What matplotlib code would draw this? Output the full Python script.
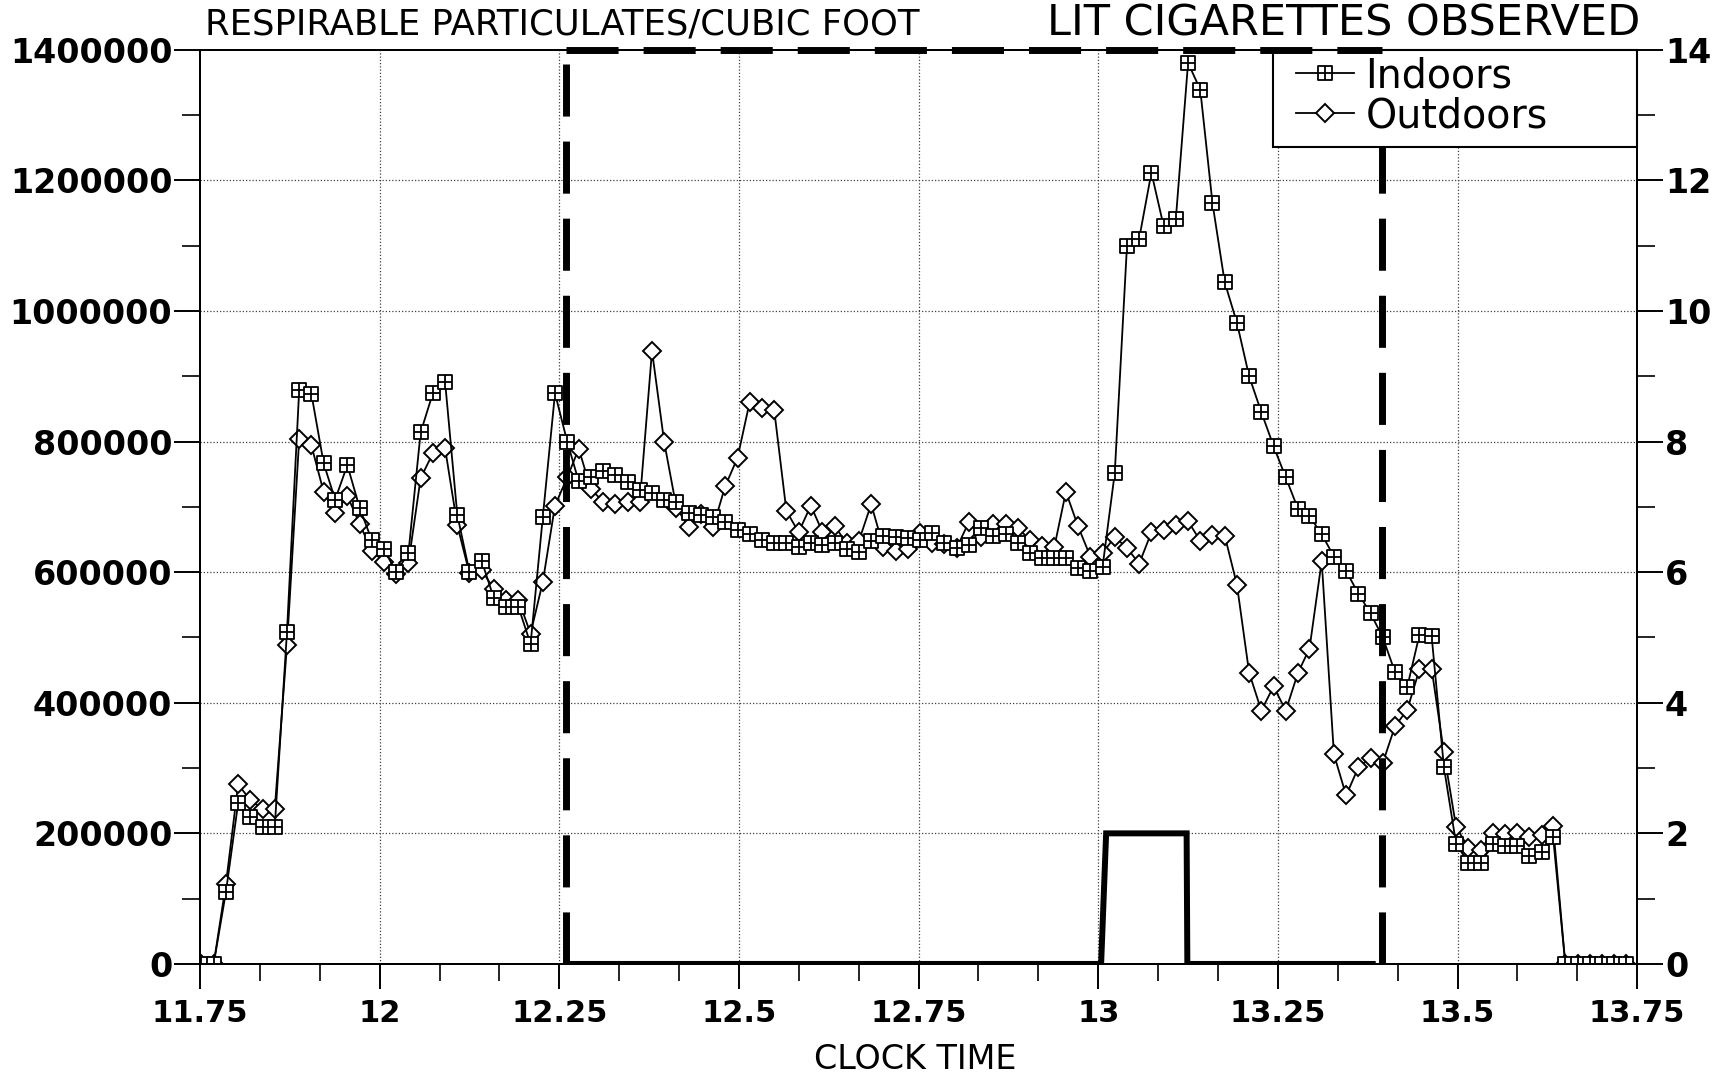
import numpy as np
import matplotlib
matplotlib.use("Agg")
import matplotlib.pyplot as plt
from matplotlib.patches import Rectangle
from matplotlib.path import Path
from matplotlib.ticker import FixedLocator, FixedFormatter, StrMethodFormatter

# ── Data ──────────────────────────────────────────────────────────────────────

times = [
    11.752, 11.769, 11.786, 11.803, 11.820, 11.837, 11.854, 11.871, 11.888, 11.905,
    11.922, 11.938, 11.955, 11.972, 11.989, 12.006, 12.023, 12.040, 12.057, 12.074,
    12.091, 12.108, 12.125, 12.142, 12.159, 12.176, 12.193, 12.210, 12.227, 12.244,
    12.261, 12.277, 12.294, 12.311, 12.328, 12.345, 12.362, 12.379, 12.396, 12.413,
    12.430, 12.447, 12.464, 12.481, 12.498, 12.515, 12.532, 12.549, 12.566, 12.583,
    12.600, 12.616, 12.633, 12.650, 12.667, 12.684, 12.701, 12.718, 12.735, 12.752,
    12.769, 12.786, 12.803, 12.820, 12.837, 12.854, 12.871, 12.888, 12.905, 12.922,
    12.939, 12.955, 12.972, 12.989, 13.006, 13.023, 13.040, 13.057, 13.074, 13.091,
    13.108, 13.125, 13.142, 13.159, 13.176, 13.193, 13.210, 13.227, 13.244, 13.261,
    13.278, 13.294, 13.311, 13.328, 13.345, 13.362, 13.379, 13.396, 13.413, 13.430,
    13.447, 13.464, 13.481, 13.498, 13.515, 13.532, 13.549, 13.566, 13.583, 13.600,
    13.617, 13.633, 13.650, 13.667, 13.684, 13.701, 13.718, 13.735,
]

indoors = [
    0, 0, 110000, 246000, 225000, 210000, 210000, 509000, 879000, 873000,
    767000, 711000, 764000, 699000, 649000, 635000, 600000, 629000, 814000, 874000,
    892000, 688000, 600000, 617000, 560000, 547000, 547000, 490000, 684000, 874000,
    800000, 739000, 746000, 755000, 749000, 738000, 726000, 721000, 710000, 708000,
    690000, 688000, 684000, 677000, 665000, 658000, 649000, 644000, 644000, 639000,
    644000, 641000, 644000, 636000, 631000, 647000, 656000, 654000, 653000, 650000,
    660000, 645000, 637000, 641000, 667000, 656000, 658000, 645000, 630000, 622000,
    622000, 621000, 606000, 602000, 608000, 752000, 1100000, 1111000, 1212000, 1130000,
    1141000, 1380000, 1339000, 1165000, 1044000, 982000, 900000, 845000, 793000, 745000,
    697000, 686000, 658000, 624000, 602000, 567000, 537000, 500000, 447000, 424000,
    504000, 502000, 302000, 184000, 155000, 154000, 184000, 181000, 180000, 166000,
    171000, 195000, 0, 0, 0, 0, 0, 0,
]

outdoors = [
    0, 0, 122000, 275000, 251000, 237000, 237000, 488000, 804000, 794000,
    723000, 690000, 717000, 674000, 633000, 616000, 597000, 614000, 744000, 782000,
    790000, 672000, 598000, 603000, 574000, 557000, 558000, 506000, 585000, 702000,
    745000, 789000, 727000, 708000, 705000, 707000, 707000, 939000, 799000, 699000,
    669000, 689000, 669000, 732000, 775000, 861000, 851000, 849000, 694000, 661000,
    702000, 662000, 671000, 644000, 648000, 704000, 639000, 633000, 635000, 660000,
    644000, 643000, 637000, 677000, 654000, 674000, 674000, 668000, 649000, 640000,
    639000, 723000, 670000, 624000, 629000, 654000, 637000, 613000, 661000, 664000,
    673000, 678000, 648000, 657000, 656000, 581000, 446000, 388000, 425000, 388000,
    446000, 483000, 617000, 321000, 258000, 301000, 316000, 308000, 364000, 389000,
    451000, 452000, 324000, 210000, 178000, 175000, 201000, 199000, 200000, 194000,
    197000, 211000, 0, 0, 0, 0, 0, 0,
]

# lit cigarettes observed (right axis)
cig_times = [12.265, 13.004, 13.011, 13.123, 13.124, 13.382]
cig_counts = [0, 0, 2, 2, 0, 0]

# observation period: start / end of the cigarette count
obs_start = 12.26
obs_end = 13.395
obs_top = 14

x_ticks = [11.75, 12.0, 12.25, 12.5, 12.75, 13.0, 13.25, 13.5, 13.75]
x_labels = ["11.75", "12", "12.25", "12.5", "12.75", "13", "13.25", "13.5", "13.75"]

# ── Styling ──────────────────────────────────────────────────────────────────

plt.rcParams.update({
    "font.family": "DejaVu Sans",
    "axes.linewidth": 1.4,
    "xtick.major.width": 1.4,
    "ytick.major.width": 1.4,
    "xtick.minor.width": 1.2,
    "ytick.minor.width": 1.2,
})

# open square with a cross inside
_sq_verts = [(-1, -1), (1, -1), (1, 1), (-1, 1), (-1, -1),
             (0, -1), (0, 1), (-1, 0), (1, 0)]
_sq_codes = [Path.MOVETO, Path.LINETO, Path.LINETO, Path.LINETO, Path.CLOSEPOLY,
             Path.MOVETO, Path.LINETO, Path.MOVETO, Path.LINETO]
SQUARE_PLUS = Path(_sq_verts, _sq_codes)

GRID_KW = dict(color="0.25", linestyle=(0, (1, 1.6)), linewidth=0.9)
OBS_KW = dict(color="black", linewidth=5.0, dashes=(7.5, 3.6), dash_capstyle="butt")

fig = plt.figure(figsize=(17.17, 10.78), dpi=100)
ax = fig.add_axes([0.1165, 0.1058, 0.837, 0.848])
ax2 = ax.twinx()

ax.set_xlim(11.75, 13.75)
ax.set_ylim(0, 1400000)
ax2.set_ylim(0, 14)

# grid
for xv in x_ticks[1:-1]:
    ax.axvline(xv, zorder=0, **GRID_KW)
for yv in range(200000, 1400000, 200000):
    ax.axhline(yv, zorder=0, **GRID_KW)

out_line, = ax.plot(times, outdoors, color="black", linewidth=1.3, marker="D", markersize=9,
                    markerfacecolor="white", markeredgecolor="black", markeredgewidth=1.4,
                    label="Outdoors", zorder=3)
in_line, = ax.plot(times, indoors, color="black", linewidth=1.3, marker=SQUARE_PLUS,
                   markersize=10, markerfacecolor="white", markeredgecolor="black",
                   markeredgewidth=1.3, label="Indoors", zorder=4)

# observation window: vertical sides sit under the legend box, top edge over it
ax2.plot([obs_start, obs_start], [0, obs_top], zorder=5, **OBS_KW)
ax2.plot([obs_end, obs_end], [0, obs_top], zorder=5, **OBS_KW)
ax2.plot([obs_start, obs_end], [obs_top, obs_top], zorder=11, clip_on=False, **OBS_KW)
ax2.plot(cig_times, cig_counts, color="black", linewidth=4.3,
         solid_joinstyle="miter", zorder=5)

# ticks
ax.xaxis.set_major_locator(FixedLocator(x_ticks))
ax.xaxis.set_major_formatter(FixedFormatter(x_labels))
ax.xaxis.set_minor_locator(FixedLocator([11.75 + i / 12 for i in range(25)]))
ax.yaxis.set_major_locator(FixedLocator(range(0, 1400001, 200000)))
ax.yaxis.set_minor_locator(FixedLocator(range(100000, 1400000, 200000)))
ax.yaxis.set_major_formatter(StrMethodFormatter("{x:.0f}"))
ax2.yaxis.set_major_locator(FixedLocator(range(0, 15, 2)))
ax2.yaxis.set_minor_locator(FixedLocator(range(1, 14, 2)))

ax.tick_params(axis="x", which="major", direction="out", length=18, labelsize=22, pad=7)
ax.tick_params(axis="x", which="minor", direction="out", length=12)
ax.tick_params(axis="y", which="major", direction="out", length=19, labelsize=24, pad=1)
ax.tick_params(axis="y", which="minor", direction="out", length=13)
ax2.tick_params(axis="y", which="major", direction="out", length=19, labelsize=24, pad=1)
ax2.tick_params(axis="y", which="minor", direction="out", length=13)
for lbl in ax.get_xticklabels() + ax.get_yticklabels() + ax2.get_yticklabels():
    lbl.set_fontweight("bold")

# legend: square box flush with the top-right corner, entries sitting at its left
ax2.add_patch(Rectangle((0.7467, 0.894), 0.2533, 0.106, transform=ax2.transAxes,
                        facecolor="white", edgecolor="black", linewidth=1.5,
                        zorder=9, clip_on=False))
leg = ax2.legend([in_line, out_line], ["Indoors", "Outdoors"], loc="upper left",
                 bbox_to_anchor=(0.7627, 0.993), borderaxespad=0, borderpad=0,
                 fontsize=28.5, handlelength=1.45, handletextpad=0.3,
                 labelspacing=0.0, frameon=False, numpoints=1)
leg.set_zorder(10)

fig.text(205 / 1717, 1 - 34 / 1078, "RESPIRABLE PARTICULATES/CUBIC FOOT",
         fontsize=25.5, ha="left", va="baseline")
fig.text(1640 / 1717, 1 - 36 / 1078, "LIT CIGARETTES OBSERVED",
         fontsize=31, ha="right", va="baseline")
fig.text(0.533, 0.008, "CLOCK TIME", fontsize=24, ha="center", va="baseline")

fig.savefig("out.png", dpi=100, facecolor="white")
